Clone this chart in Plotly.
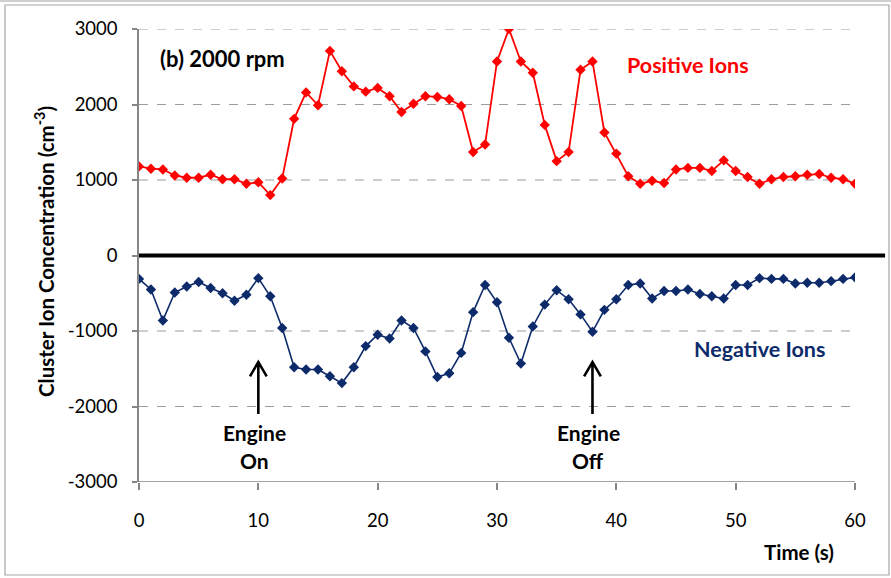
import plotly.graph_objects as go

# Time axis (s) and cluster ion concentrations (cm^-3)
time_s = list(range(0, 61))

positive_ions = [
    1180, 1150, 1140, 1060, 1030, 1030, 1070, 1010, 1010, 950,
    970, 800, 1020, 1810, 2160, 1990, 2710, 2440, 2240, 2170,
    2220, 2110, 1900, 2010, 2110, 2100, 2070, 1980, 1370, 1470,
    2570, 3000, 2570, 2420, 1730, 1250, 1370, 2460, 2570, 1630,
    1350, 1050, 950, 990, 960, 1140, 1160, 1160, 1120, 1260,
    1120, 1040, 950, 1010, 1040, 1050, 1070, 1080, 1030, 1010,
    950,
]

negative_ions = [
    -310, -450, -860, -490, -410, -350, -430, -500, -600, -520,
    -300, -540, -960, -1480, -1510, -1510, -1600, -1690, -1480, -1200,
    -1050, -1100, -860, -960, -1270, -1610, -1560, -1290, -750, -390,
    -620, -1090, -1430, -940, -650, -460, -580, -780, -1010, -720,
    -580, -390, -370, -570, -470, -470, -450, -510, -540, -570,
    -390, -390, -300, -310, -310, -370, -360, -360, -340, -310,
    -290,
]

x_ticks = [0, 10, 20, 30, 40, 50, 60]
y_ticks = [-3000, -2000, -1000, 0, 1000, 2000, 3000]

# Event markers: (time, first line, second line)
events = [(10, "Engine", "On"), (38, "Engine", "Off")]

RED = "#FF0000"
NAVY = "#0D2B6B"
AXIS_GRAY = "#868686"
GRID_GRAY = "#9C9C9C"
FONT = "Lato, 'Open Sans', sans-serif"

fig = go.Figure()

fig.add_trace(go.Scatter(
    x=time_s, y=positive_ions, mode="lines+markers", name="Positive Ions",
    line=dict(color=RED, width=1.8),
    marker=dict(symbol="diamond", size=8, color=RED),
))
fig.add_trace(go.Scatter(
    x=time_s, y=negative_ions, mode="lines+markers", name="Negative Ions",
    line=dict(color=NAVY, width=1.6),
    marker=dict(symbol="diamond", size=8, color=NAVY),
))

shapes = []

# dashed horizontal gridlines (excluding zero and the bottom axis)
for v in y_ticks:
    if v in (0, -3000):
        continue
    shapes.append(dict(
        type="line", xref="x", yref="y", x0=0, x1=60, y0=v, y1=v,
        line=dict(color=GRID_GRAY, width=1.2, dash="dash"), layer="below",
    ))

# heavy zero line running past the last tick
shapes.append(dict(
    type="line", xref="paper", yref="y", x0=0, x1=1.042, y0=0, y1=0,
    line=dict(color="black", width=4), layer="above",
))

# bottom axis line only across the labelled range
shapes.append(dict(
    type="line", xref="x", yref="y", x0=0, x1=60, y0=-3000, y1=-3000,
    line=dict(color=AXIS_GRAY, width=1.5),
))

# upward arrows for engine events (open chevron heads)
for t, _, _ in events:
    shapes.append(dict(
        type="path", xref="x", yref="y",
        path=(f"M {t},-2100 L {t},-1410 "
              f"M {t - 0.7},-1600 L {t},-1410 L {t + 0.7},-1600"),
        line=dict(color="black", width=2.6),
    ))

# outer frame
shapes.append(dict(
    type="rect", xref="paper", yref="paper",
    x0=(5 - 139) / 716, x1=(889 - 139) / 716,
    y0=(482 - 575) / 453, y1=(482 - 5) / 453,
    line=dict(color="#A6A6A6", width=1.2),
))
shapes.append(dict(
    type="line", xref="paper", yref="paper",
    x0=(0 - 139) / 716, x1=(891 - 139) / 716,
    y0=(482 - 1) / 453, y1=(482 - 1) / 453,
    line=dict(color="#BFBFBF", width=1.5),
))

annotations = [
    dict(text="<b>(b) 2000 rpm</b>", x=1.6, y=2607, xref="x", yref="y",
         xanchor="left", yanchor="middle", showarrow=False,
         font=dict(size=22, color="black", family=FONT)),
    dict(text="<b>Positive Ions</b>", x=46.0, y=2527, xref="x", yref="y",
         xanchor="center", yanchor="middle", showarrow=False,
         font=dict(size=21.5, color=RED, family=FONT)),
    dict(text="<b>Negative Ions</b>", x=52.0, y=-1244, xref="x", yref="y",
         xanchor="center", yanchor="middle", showarrow=False,
         font=dict(size=21.5, color=NAVY, family=FONT)),
    dict(text="<b>Time (s)</b>", x=(799 - 139) / 716, y=(482 - 552) / 453,
         xref="paper", yref="paper", xanchor="center", yanchor="middle",
         showarrow=False, font=dict(size=20.5, color="black", family=FONT)),
    dict(text="<b>Cluster Ion Concentration (cm<sup>-3</sup>)</b>",
         x=(45 - 139) / 716, y=(482 - 252) / 453, xref="paper", yref="paper",
         xanchor="center", yanchor="middle", textangle=-90, showarrow=False,
         font=dict(size=20.5, color="black", family=FONT)),
]
for t, line1, line2 in events:
    annotations.append(dict(
        text=f"<b>{line1}</b>", x=t - 0.35, y=-2340, xref="x", yref="y",
        xanchor="center", yanchor="middle", showarrow=False,
        font=dict(size=21, color="black", family=FONT)))
    annotations.append(dict(
        text=f"<b>{line2}</b>", x=t - 0.35, y=-2720, xref="x", yref="y",
        xanchor="center", yanchor="middle", showarrow=False,
        font=dict(size=21, color="black", family=FONT)))

fig.update_layout(
    width=891, height=578,
    margin=dict(l=139, r=36, t=29, b=96),
    paper_bgcolor="white", plot_bgcolor="white",
    showlegend=False,
    font=dict(family=FONT, size=18, color="black"),
    shapes=shapes, annotations=annotations,
    xaxis=dict(
        range=[0, 60], tickvals=x_ticks, ticktext=[str(v) for v in x_ticks],
        showgrid=False, zeroline=False, showline=False,
        ticks="outside", ticklen=7, tickcolor=AXIS_GRAY, tickwidth=1.5,
        ticklabelstandoff=15, tickfont=dict(size=18.5, color="black"),
    ),
    yaxis=dict(
        range=[-3000, 3000], tickvals=y_ticks, ticktext=[str(v) for v in y_ticks],
        showgrid=False, zeroline=False,
        showline=True, linecolor=AXIS_GRAY, linewidth=1.5,
        ticks="outside", ticklen=5, tickcolor=AXIS_GRAY, tickwidth=1.5,
        ticklabelstandoff=11, tickfont=dict(size=18.5, color="black"),
    ),
)

fig.write_html("out.html")
